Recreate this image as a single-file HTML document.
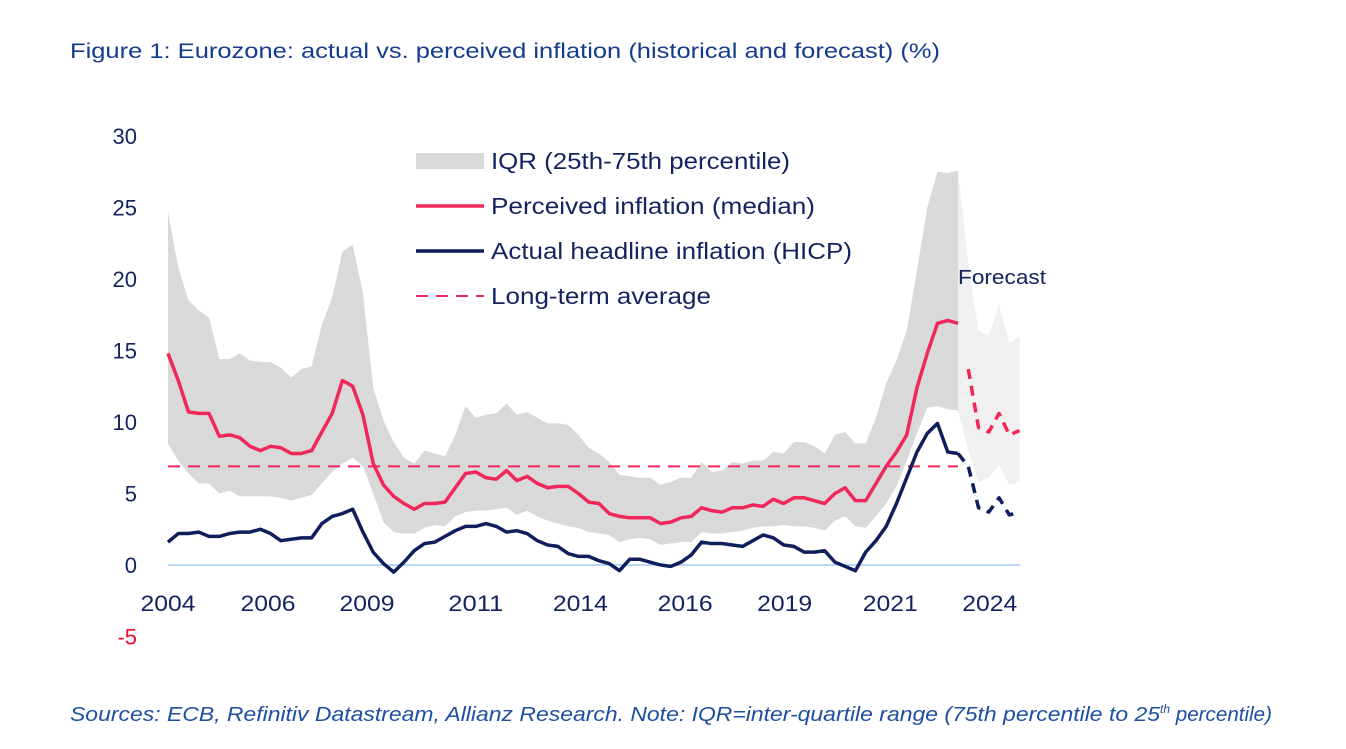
<!DOCTYPE html>
<html><head><meta charset="utf-8"><style>
body{margin:0;background:#fff;width:1346px;height:744px;overflow:hidden;font-family:"Liberation Sans",sans-serif}
</style></head><body>
<svg id="chart" width="1346" height="744" xmlns="http://www.w3.org/2000/svg">
<text x="70" y="58" font-size="21" fill="#143c8c" textLength="870" lengthAdjust="spacingAndGlyphs" font-family="Liberation Sans, sans-serif">Figure 1: Eurozone: actual vs. perceived inflation (historical and forecast) (%)</text>
<g id="plot"></g>
<text x="70" y="721" font-size="20" font-style="italic" fill="#1e4fa0" font-family="Liberation Sans, sans-serif"><tspan textLength="1090" lengthAdjust="spacingAndGlyphs">Sources: ECB, Refinitiv Datastream, Allianz Research. Note: IQR=inter-quartile range (75th percentile to 25</tspan><tspan font-size="12" dy="-8">th</tspan><tspan dy="8" textLength="102" lengthAdjust="spacingAndGlyphs"> percentile)</tspan></text>
</svg>
<script>
const perceived=[14.8,12.9,10.7,10.6,10.6,9.0,9.1,8.9,8.3,8.0,8.3,8.2,7.8,7.8,8.0,9.3,10.6,12.9,12.5,10.5,7.1,5.6,4.8,4.3,3.9,4.3,4.3,4.4,5.4,6.4,6.5,6.1,6.0,6.6,5.9,6.2,5.7,5.4,5.5,5.5,5.0,4.4,4.3,3.6,3.4,3.3,3.3,3.3,2.9,3.0,3.3,3.4,4.0,3.8,3.7,4.0,4.0,4.2,4.1,4.6,4.3,4.7,4.7,4.5,4.3,5.0,5.4,4.5,4.5,5.7,6.9,7.9,9.1,12.4,14.8,16.9,17.1,16.9];
const hicp=[1.6,2.2,2.2,2.3,2.0,2.0,2.2,2.3,2.3,2.5,2.2,1.7,1.8,1.9,1.9,2.9,3.4,3.6,3.9,2.3,0.9,0.1,-0.5,0.2,1.0,1.5,1.6,2.0,2.4,2.7,2.7,2.9,2.7,2.3,2.4,2.2,1.7,1.4,1.3,0.8,0.6,0.6,0.3,0.1,-0.4,0.4,0.4,0.2,0.0,-0.1,0.2,0.7,1.6,1.5,1.5,1.4,1.3,1.7,2.1,1.9,1.4,1.3,0.9,0.9,1.0,0.2,-0.1,-0.4,0.9,1.7,2.7,4.3,6.1,7.9,9.2,9.9,7.9,7.8];
const iqrHigh=[24.7,20.8,18.5,17.8,17.3,14.4,14.4,14.8,14.3,14.2,14.2,13.8,13.1,13.7,13.9,16.8,18.7,21.9,22.4,19.0,12.4,10.1,8.6,7.5,7.1,8.0,7.8,7.6,9.1,11.1,10.3,10.5,10.6,11.3,10.5,10.7,10.3,9.9,9.9,9.8,9.1,8.2,7.8,7.2,6.3,6.2,6.1,6.1,5.6,5.8,6.1,6.1,7.2,6.5,6.6,7.2,7.1,7.3,7.3,7.9,7.8,8.6,8.6,8.3,7.8,9.1,9.3,8.5,8.5,10.3,12.7,14.3,16.4,20.6,25.0,27.5,27.4,27.6];
const iqrLow=[8.5,7.3,6.4,5.7,5.7,5.0,5.2,4.8,4.8,4.8,4.8,4.7,4.5,4.7,4.9,5.7,6.5,7.1,7.5,6.9,5.0,3.0,2.3,2.2,2.2,2.6,2.8,2.7,3.4,3.7,3.8,3.8,3.9,4.0,3.5,3.8,3.4,3.1,2.9,2.7,2.6,2.3,2.2,2.1,1.6,1.8,1.9,1.8,1.4,1.5,1.6,1.6,2.3,2.2,2.2,2.3,2.4,2.6,2.7,2.7,2.8,2.7,2.7,2.6,2.4,3.1,3.4,2.7,2.6,3.4,4.3,5.5,7.3,9.2,11.0,11.1,10.9,10.8];
const fcPerceived=[13.7,9.6,9.3,10.6,9.1,9.4];
const fcHicp=[6.9,4.0,3.7,4.7,3.5,3.7];
const fcHigh=[21.0,16.4,16.0,18.2,15.5,16.0];
const fcLow=[8.0,5.8,6.1,7.0,5.6,5.8];
const longTermAvg=6.9;
const yTicks=[30,25,20,15,10,5,0,-5];
const xTickLabels=["2004","2006","2009","2011","2014","2016","2019","2021","2024"];
const xTickIdx=[0,9.75,19.4,30,40.2,50.4,60.1,70.4,80.1];

const NS="http://www.w3.org/2000/svg";
const g=document.getElementById('plot');
const X=i=>168+i*10.26;
const Y=v=>565-v*14.3;
function mk(tag,attrs){const e=document.createElementNS(NS,tag);for(const k in attrs)e.setAttribute(k,attrs[k]);g.appendChild(e);return e;}
const N=perceived.length;
let d='';iqrHigh.forEach((v,i)=>d+=(i?'L':'M')+X(i)+','+Y(v));
for(let i=N-1;i>=0;i--)d+='L'+X(i)+','+Y(iqrLow[i]);
let band=mk('path',{d:d+'Z',fill:'#d9d9d9'});


d='M'+X(N-1)+','+Y(iqrHigh[N-1]);fcHigh.forEach((v,i)=>d+='L'+X(N+i)+','+Y(v));
for(let i=fcLow.length-1;i>=0;i--)d+='L'+X(N+i)+','+Y(fcLow[i]);
d+='L'+X(N-1)+','+Y(iqrLow[N-1])+'Z';
let fb=mk('path',{d:d,fill:'#f0f0f0'});


let zl=mk('line',{x1:168,x2:1020,y1:Y(0),y2:Y(0),stroke:'#bcd6f5','stroke-width':2});


let la=mk('line',{x1:168,x2:958,y1:Y(longTermAvg),y2:Y(longTermAvg),stroke:'#f0285a','stroke-width':2,'stroke-dasharray':'12,8'});


function line(arr,off,color,dash,startPt){
  let p=startPt?('M'+startPt[0]+','+startPt[1]):'';
  arr.forEach((v,i)=>p+=((i||startPt)?'L':'M')+X(off+i)+','+Y(v));
  const e=mk('path',{d:p,fill:'none',stroke:color,'stroke-width':3.5,'stroke-linejoin':'round'});
  if(dash)e.setAttribute('stroke-dasharray',dash);
  return e;
}
let l1=line(perceived,0,'#f0285a',null);


let l2=line(hicp,0,'#0f1f5c',null);


let l3=line(fcPerceived,N,'#f0285a','10,7');


let l4=line(fcHicp,N,'#0f1f5c','10,7',[X(N-1),Y(hicp[N-1])]);


yTicks.forEach(v=>{const t=mk('text',{x:137,y:Y(v)+8,'text-anchor':'end','font-size':22,fill:v<0?'#e8102a':'#14235f'});t.textContent=v;

});
xTickLabels.forEach((s,i)=>{const t=mk('text',{x:X(xTickIdx[i]),y:611,'text-anchor':'middle','font-size':22,fill:'#14235f',textLength:55,lengthAdjust:'spacingAndGlyphs'});t.textContent=s;

});
let fl=mk('text',{x:958,y:284,'font-size':20,fill:'#14235f',textLength:88,lengthAdjust:'spacingAndGlyphs'});fl.textContent='Forecast';


const legTexts=['IQR (25th-75th percentile)','Perceived inflation (median)','Actual headline inflation (HICP)','Long-term average'];
const legLens=[299,324,361,220];
legTexts.forEach((s,i)=>{
  const cy=161+i*45;
  let sw;
  if(i==0)sw=mk('rect',{x:416,y:cy-8,width:68,height:16,fill:'#d9d9d9'});
  else sw=mk('line',{x1:416,x2:484,y1:cy,y2:cy,stroke:i==2?'#0f1f5c':'#f0285a','stroke-width':i==3?2:3.5,'stroke-dasharray':i==3?'12,8':'none'});
  
  
  const t=mk('text',{x:491,y:cy+8,'font-size':23,fill:'#14235f',textLength:legLens[i],lengthAdjust:'spacingAndGlyphs'});t.textContent=s;
  
  
});
</script>
</body></html>
